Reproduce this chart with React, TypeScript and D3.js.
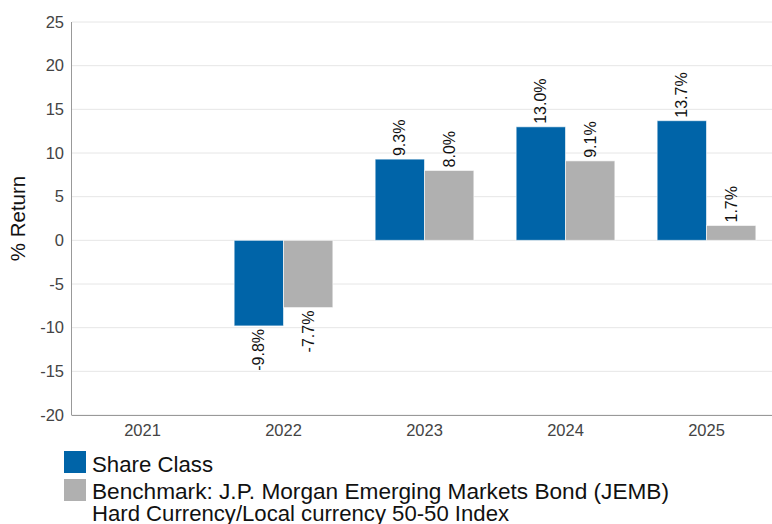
import React from "react";
import * as d3 from "d3";

const years = ["2021", "2022", "2023", "2024", "2025"];
const shareClass: (number | null)[] = [null, -9.8, 9.3, 13.0, 13.7];
const benchmark: (number | null)[] = [null, -7.7, 8.0, 9.1, 1.7];
const yTicks = [25, 20, 15, 10, 5, 0, -5, -10, -15, -20];
const seriesNames = ["Share Class", "Benchmark: J.P. Morgan Emerging Markets Bond (JEMB)"];
const legendSecondLine = "Hard Currency/Local currency 50-50 Index";
const colors = ["#0064A8", "#B0B0B0"];

const W = 772;
const H = 524;
const plot = { left: 72, right: 777, top: 22, bottom: 415 };
const FONT = "'Liberation Sans', Arial, Helvetica, sans-serif";

export default function App() {
  const x = d3.scaleBand<string>().domain(years).range([plot.left, plot.right]).padding(0);
  const bw = x.bandwidth();
  const x1 = d3
    .scaleBand<string>()
    .domain(["s", "b"])
    .range([bw * 0.15, bw * 0.85])
    .padding(0);
  const y = d3.scaleLinear().domain([-20, 25]).range([plot.bottom, plot.top]);
  const series = [
    { key: "s", values: shareClass, color: colors[0] },
    { key: "b", values: benchmark, color: colors[1] },
  ];

  return (
    <svg
      width={W}
      height={H}
      style={{ position: "absolute", left: 0, top: 0, background: "#fff" }}
      fontFamily={FONT}
    >
      {yTicks.map((t) => (
        <g key={t}>
          <line x1={plot.left} x2={W} y1={y(t)} y2={y(t)} stroke="#e6e6e6" strokeWidth={1} />
          <text x={64} y={y(t)} dy="0.35em" textAnchor="end" fontSize={16.5} fill="#444">
            {t}
          </text>
        </g>
      ))}
      {series.map((s) =>
        years.map((yr, i) => {
          const v = s.values[i];
          if (v == null) return null;
          const bx = (x(yr) as number) + (x1(s.key) as number);
          const w = x1.bandwidth();
          const y0 = y(0);
          const yv = y(v);
          const top = Math.min(y0, yv);
          const h = Math.abs(yv - y0);
          const cx = bx + w / 2;
          const label = `${v.toFixed(1)}%`;
          const ly = v >= 0 ? yv - 3 : yv + 3;
          return (
            <g key={s.key + yr}>
              <rect x={bx} y={top} width={w} height={h} fill={s.color} stroke="#ffffff" strokeOpacity={0.6} strokeWidth={1} />
              <text
                transform={`translate(${cx},${ly}) rotate(-90)`}
                textAnchor={v >= 0 ? "start" : "end"}
                dy="0.35em"
                fontSize={16}
                fill="#111"
              >
                {label}
              </text>
            </g>
          );
        })
      )}
      <line x1={plot.left - 0.5} x2={plot.left - 0.5} y1={plot.top} y2={plot.bottom} stroke="#999" strokeWidth={1} />
      <line x1={plot.left - 0.5} x2={W} y1={plot.bottom + 0.5} y2={plot.bottom + 0.5} stroke="#999" strokeWidth={1} />
      {years.map((yr) => (
        <text key={yr} x={(x(yr) as number) + bw / 2} y={436} textAnchor="middle" fontSize={16.5} fill="#444">
          {yr}
        </text>
      ))}
      <text
        transform={`translate(${25},${(plot.top + plot.bottom) / 2}) rotate(-90)`}
        textAnchor="middle"
        fontSize={20.5}
        fill="#111"
      >
        % Return
      </text>
      <rect x={64} y={451} width={22} height={22} fill={colors[0]} />
      <text x={92} y={472} fontSize={22} fill="#111" textLength={121} lengthAdjust="spacingAndGlyphs">
        {seriesNames[0]}
      </text>
      <rect x={64} y={479} width={22} height={22} fill={colors[1]} />
      <text x={92} y={498.5} fontSize={22} fill="#111" textLength={577} lengthAdjust="spacingAndGlyphs">
        {seriesNames[1]}
      </text>
      <text x={92} y={521} fontSize={22} fill="#111" textLength={417} lengthAdjust="spacingAndGlyphs">
        {legendSecondLine}
      </text>
    </svg>
  );
}
